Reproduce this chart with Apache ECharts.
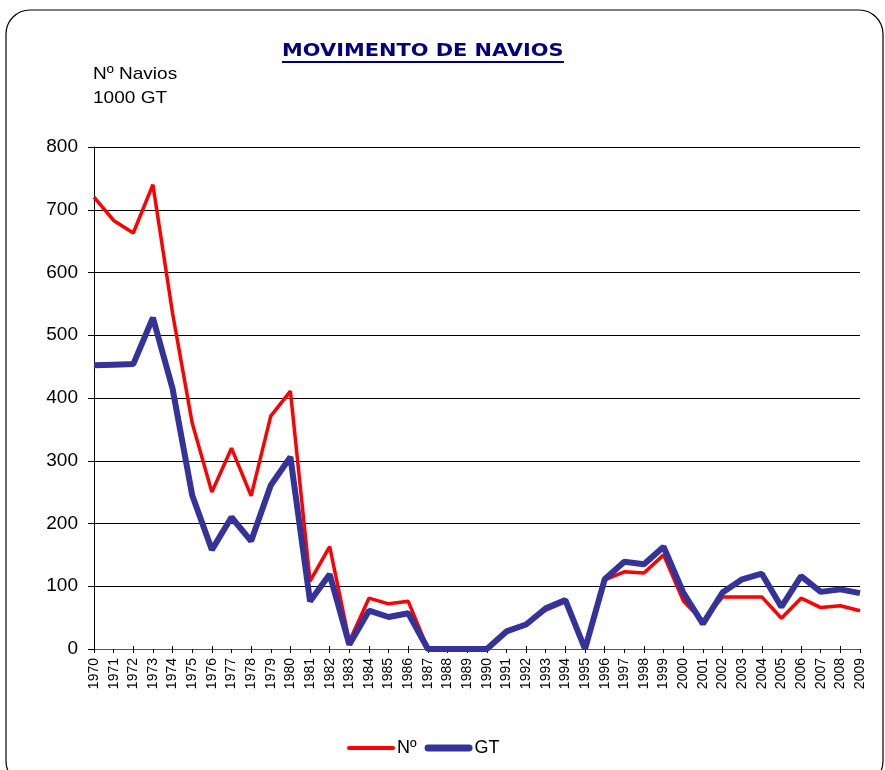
<!DOCTYPE html>
<html><head><meta charset="utf-8">
<script src="https://cdn.jsdelivr.net/npm/echarts@6/dist/echarts.min.js"></script>
<style>html,body{margin:0;padding:0;background:#fff}#c{width:885px;height:770px}</style>
</head><body><div id="c"></div>
<script>
const years = ['1970','1971','1972','1973','1974','1975','1976','1977','1978','1979','1980','1981','1982','1983','1984','1985','1986','1987','1988','1989','1990','1991','1992','1993','1994','1995','1996','1997','1998','1999','2000','2001','2002','2003','2004','2005','2006','2007','2008','2009'];
const navios = [720,683,663,740,535,360,250,320,244,371,411,108,163,12,81,72,76,0,0,0,0,28,39,62,75,0,110,123,121,150,77,44,83,83,83,49,81,66,69,61];
const gt = [452,453,454,528,415,245,158,210,172,261,306,76,119,7,61,51,57,0,0,0,0,28,39,65,78,0,111,139,135,163,90,40,90,111,120,67,116,91,95,89];
const yTicks = [0,100,200,300,400,500,600,700,800];

const chart = echarts.init(document.getElementById('c'));
const F = '"Liberation Sans", Arial, sans-serif';
chart.setOption({
  animation:false,
  backgroundColor:'#fff',
  graphic:[
    {type:'rect',shape:{x:6,y:10,width:877,height:775,r:24},style:{fill:'none',stroke:'#000',lineWidth:1.2},silent:true},
    {type:'text',x:282,y:42,scaleX:1.16,style:{text:'MOVIMENTO DE NAVIOS',font:'bold 18px "DejaVu Sans", Verdana, sans-serif',fill:'#000080'}},
    {type:'line',shape:{x1:282,y1:62,x2:564,y2:62},style:{stroke:'#000080',lineWidth:2}},
    {type:'text',x:93,y:66,scaleX:1.12,style:{text:'Nº Navios',font:'17px '+F,fill:'#000'}},
    {type:'text',x:93,y:90,scaleX:1.12,style:{text:'1000 GT',font:'17px '+F,fill:'#000'}}
  ],
  legend:{left:342,top:734,itemWidth:48,itemHeight:7,itemGap:8,
    textStyle:{fontSize:18,color:'#000',fontFamily:F,padding:[0,0,0,-3]},
    data:[{name:'Nº',icon:'path://M2,1.5 L46,1.5 A2,2 0 0 1 46,5.5 L2,5.5 A2,2 0 0 1 2,1.5 Z'},
          {name:'GT',icon:'path://M3,0 L45,0 A3.5,3.5 0 0 1 45,7 L3,7 A3.5,3.5 0 0 1 3,0 Z'}]},
  grid:{left:94,right:25,top:147,bottom:121},
  xAxis:[{type:'category',data:years,boundaryGap:false,
    axisLine:{lineStyle:{color:'#555'}},
    axisTick:{show:true,alignWithLabel:true,length:4,lineStyle:{color:'#000'}},
    axisLabel:{rotate:90,fontSize:14,color:'#000',interval:0,margin:9,fontFamily:F}},
   {type:'category',data:years,boundaryGap:false,position:'bottom',
    axisLine:{show:false},
    axisTick:{show:true,inside:true,length:3,lineStyle:{color:'#000'}},
    axisLabel:{show:false}}],
  yAxis:{type:'value',min:0,max:800,interval:100,
    axisLine:{show:true,lineStyle:{color:'#000'}},
    axisTick:{show:true,length:6,lineStyle:{color:'#000'}},
    splitLine:{lineStyle:{color:'#000',width:1}},
    axisLabel:{fontSize:19,color:'#000',margin:16,fontFamily:F,
      formatter:v=>yTicks.includes(v)?String(v):''}},
  series:[
    {name:'Nº',type:'line',data:navios,symbol:'none',lineStyle:{color:'#ff0000',width:3.5},itemStyle:{color:'#ff0000'}},
    {name:'GT',type:'line',data:gt,symbol:'none',lineStyle:{color:'#333399',width:6},itemStyle:{color:'#333399'}}
  ]
});
</script></body></html>
